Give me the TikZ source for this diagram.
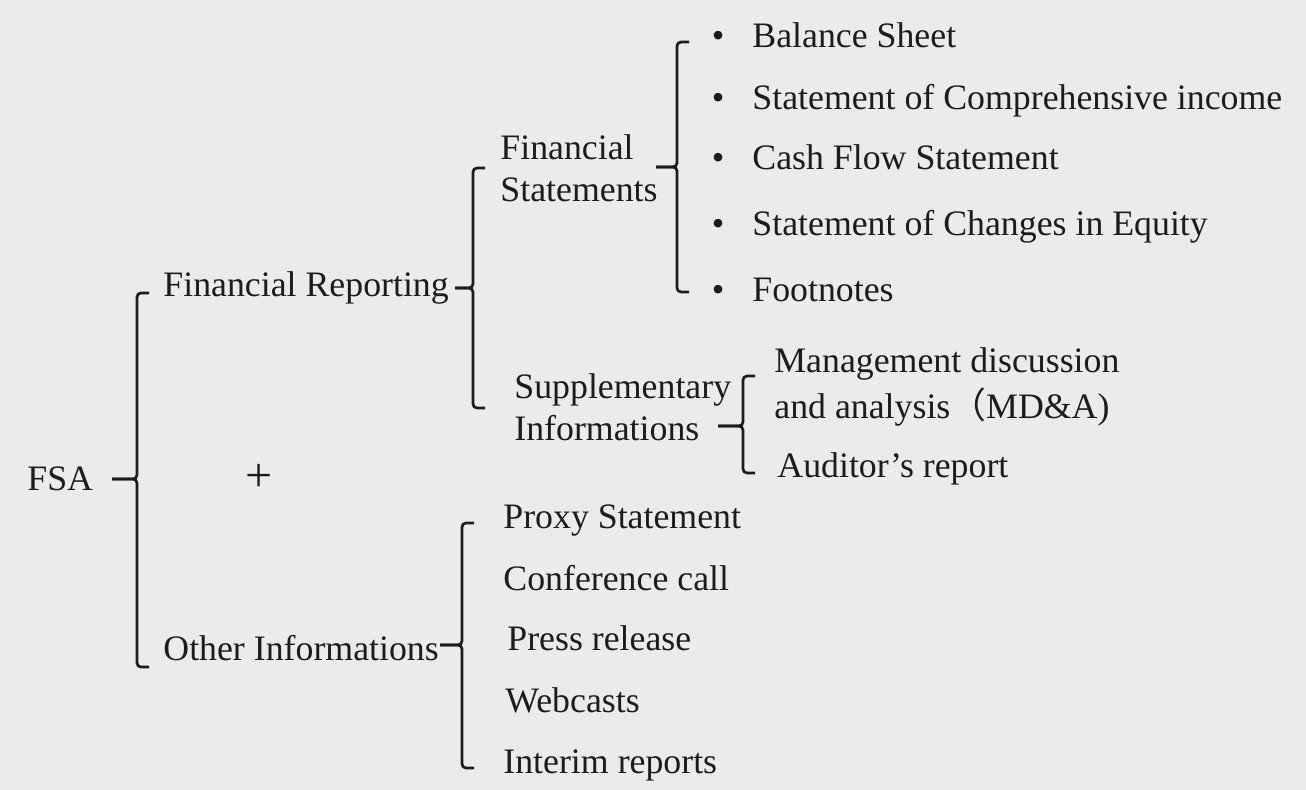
\documentclass[tikz,border=0pt]{standalone}
\usepackage{fontspec}
\setmainfont{Liberation Serif}
\newfontfamily\cjk{Noto Sans CJK SC}
\usetikzlibrary{positioning}
\definecolor{bgcol}{RGB}{235,235,235}
\definecolor{inkcol}{RGB}{28,28,28}
\tikzstyle{txt}=[anchor=base west, inner sep=0pt, text=inkcol
,font=\fontsize{17.9}{21}\selectfont
]
\tikzstyle{brace}=[draw=inkcol, line width=1.35pt, rounded corners=2pt]
% bracket: name, x, top, middle, bottom, start of the stub
\newcommand{\bracket}[6]{
  \coordinate (#1T) at (#2,#3);
  \coordinate (#1M) at (#2,#4);
  \coordinate (#1B) at (#2,#5);
  \coordinate (#1S) at (#6,#4);
  \draw[brace] ([xshift=6pt]#1T) -- (#1T) -- (#1M) -- (#1S);
  \draw[brace] (#1S) -- (#1M) -- (#1B) -- ([xshift=6pt]#1B);
}

\begin{document}
\begin{tikzpicture}[x=0.5pt, y=-0.5pt]
    \fill[bgcol] (0,0) rectangle (1306,790);
    \useasboundingbox (0,0) rectangle (1306,790);

    % First the headings
    \node[txt] (FSA) at (27,491) {FSA};
    \node[txt, anchor=center, font=\fontsize{24}{24}\selectfont] (plus) at (259,478) {+};
    \node[txt] (FR) at (163,297) {Financial Reporting};
    \node[txt] (OI) at (163,660) {Other Informations};
    \node[txt, align=left] (FS) at (500,202) {Financial\\Statements};
    \node[txt, align=left] (SI) at (514,441) {Supplementary\\Informations};

    % The statements, with bullets
    \foreach \pos/\name/\text in {{(752,48)/bs/Balance Sheet},
        {(752,110)/ci/Statement of Comprehensive income},
        {(752,170)/cf/Cash Flow Statement},
        {(752,236)/ce/Statement of Changes in Equity},
        {(752,302)/fn/Footnotes}}
        \node[txt] (\name) at \pos {\llap{\textbullet\hspace{14pt}}\text};

    % Supplementary items
    \node[txt, align=left, font=\fontsize{17.9}{23}\selectfont] (mda) at (774,419)
        {Management discussion\\and analysis{\cjk （}MD\&A)};
    \node[txt] (ar) at (777,478) {Auditor’s report};

    % Other informations
    \foreach \pos/\name/\text in {{(503,529)/ps/Proxy Statement},
        {(503,590)/cc/Conference call}, {(507,650)/pr/Press release},
        {(505,712)/wc/Webcasts}, {(503,773)/ir/Interim reports}}
        \node[txt] (\name) at \pos {\text};

    % Brackets
    \bracket{fsa}{137}{293}{479}{667}{112}
    \bracket{fr}{473}{168}{288}{408}{455}
    \bracket{fs}{677}{42}{167}{292}{656}
    \bracket{si}{743}{376}{426}{473}{718}
    \bracket{oi}{462}{523}{645}{768}{440}
\end{tikzpicture}
\end{document}
